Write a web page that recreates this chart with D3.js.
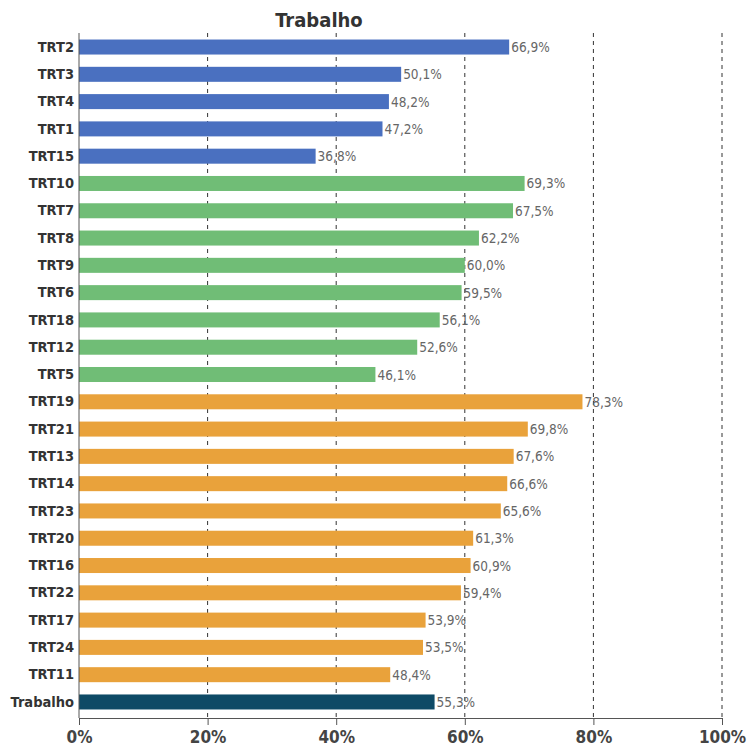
<!DOCTYPE html>
<html lang="pt">
<head>
<meta charset="UTF-8">
<title>Trabalho</title>
<style>
body { margin: 0; background: #fff; }
#chart { width: 747px; height: 751px; }
.grid line { stroke: #333; stroke-width: 1; stroke-dasharray: 4,4; }
.axis path, .axis line { stroke: #555; }
.cat text { font-family: "DejaVu Sans Condensed", sans-serif; font-weight: bold; font-size: 14.5px; fill: #333; }
.xlab text { font-family: "DejaVu Sans Condensed", sans-serif; font-weight: bold; font-size: 17px; fill: #444; }
.val { font-family: "DejaVu Sans Condensed", sans-serif; font-size: 13.5px; fill: #666; }
.title { font-family: "DejaVu Sans Condensed", sans-serif; font-weight: bold; font-size: 20px; fill: #333; }
</style>
<script src="https://cdn.jsdelivr.net/npm/d3@7/dist/d3.min.js"></script>
</head>
<body>
<div id="chart"></div>
<script>
// data
var categories = ["TRT2","TRT3","TRT4","TRT1","TRT15",
  "TRT10","TRT7","TRT8","TRT9","TRT6","TRT18","TRT12","TRT5",
  "TRT19","TRT21","TRT13","TRT14","TRT23","TRT20","TRT16","TRT22","TRT17","TRT24","TRT11",
  "Trabalho"];
var values = [66.9, 50.1, 48.2, 47.2, 36.8,
  69.3, 67.5, 62.2, 60.0, 59.5, 56.1, 52.6, 46.1,
  78.3, 69.8, 67.6, 66.6, 65.6, 61.3, 60.9, 59.4, 53.9, 53.5, 48.4,
  55.3];
var groups = ["g1","g1","g1","g1","g1",
  "g2","g2","g2","g2","g2","g2","g2","g2",
  "g3","g3","g3","g3","g3","g3","g3","g3","g3","g3","g3",
  "total"];
var xTicks = [0, 20, 40, 60, 80, 100];

var color = d3.scaleOrdinal()
  .domain(["g1","g2","g3","total"])
  .range(["#4a70c0","#70bd76","#e9a23b","#0e4a66"]);

var width = 747, height = 751;
var plotTop = 33, plotBottom = 718;

var svg = d3.select("#chart").append("svg")
  .attr("width", width)
  .attr("height", height);

var x = d3.scaleLinear().domain([0, 100]).range([79, 722]);
var y = d3.scaleBand().domain(categories)
  .range([32.7, 716.3])
  .paddingInner(0.45).paddingOuter(0.25);

// title
svg.append("text").attr("class", "title")
  .attr("x", 319).attr("y", 27)
  .attr("text-anchor", "middle")
  .text("Trabalho");

// grid
svg.append("g").attr("class", "grid")
  .selectAll("line")
  .data(xTicks.filter(function(d) { return d > 0; }))
  .enter().append("line")
  .attr("x1", function(d) { return x(d); })
  .attr("x2", function(d) { return x(d); })
  .attr("y1", plotTop)
  .attr("y2", plotBottom);

// bars
svg.append("g").selectAll("rect")
  .data(categories)
  .enter().append("rect")
  .attr("x", x(0))
  .attr("y", function(d) { return y(d); })
  .attr("height", y.bandwidth())
  .attr("width", function(d, i) { return x(values[i]) - x(0); })
  .attr("fill", function(d, i) { return color(groups[i]); });

// value labels
svg.append("g").selectAll("text")
  .data(categories)
  .enter().append("text")
  .attr("class", "val")
  .attr("x", function(d, i) { return x(values[i]) + 2; })
  .attr("y", function(d) { return y(d) + y.bandwidth() / 2 + 5; })
  .text(function(d, i) { return values[i].toFixed(1).replace(".", ",") + "%"; });

// y axis
svg.append("g").attr("class", "axis cat")
  .attr("transform", "translate(" + x(0) + ",0)")
  .call(d3.axisLeft(y).tickSize(0).tickPadding(5))
  .call(function(g) { g.select(".domain").attr("d", "M0," + plotTop + "V" + plotBottom); });

// x axis
svg.append("g").attr("class", "axis xlab")
  .attr("transform", "translate(0," + plotBottom + ")")
  .call(d3.axisBottom(x).tickValues(xTicks).tickSize(7).tickSizeOuter(0).tickPadding(6)
    .tickFormat(function(d) { return d + "%"; }));
</script>
</body>
</html>
